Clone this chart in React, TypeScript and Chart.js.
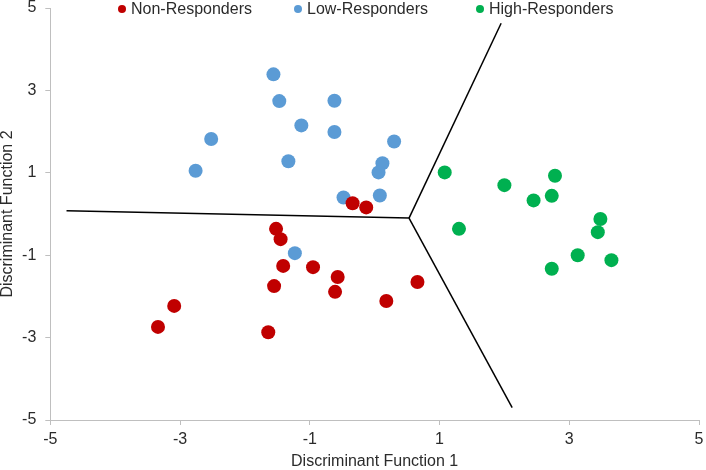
import React, { useEffect, useRef } from "react";
import { Chart, registerables } from "chart.js";

Chart.register(...registerables);

// ---- data ----
const seriesNames = ["Non-Responders", "Low-Responders", "High-Responders"];
const seriesColors = ["#c00000", "#5b9bd5", "#00b050"];

const nonX = [-0.34, -0.13, -1.52, -1.45, -1.41, -0.95, -0.57, -1.55, -0.61, 0.66, 0.18, -3.09, -3.34, -1.64];
const nonY = [0.26, 0.16, -0.36, -0.61, -1.26, -1.29, -1.53, -1.75, -1.89, -1.65, -2.11, -2.23, -2.74, -2.87];

const lowX = [-1.56, -1.47, -0.62, -1.13, -0.62, -2.52, 0.30, -1.33, 0.12, 0.06, -2.76, -0.48, 0.08, -1.23];
const lowY = [3.39, 2.74, 2.75, 2.15, 1.99, 1.82, 1.76, 1.28, 1.23, 1.01, 1.05, 0.40, 0.45, -0.95];

const highX = [1.08, 2.0, 2.78, 2.45, 2.73, 1.3, 3.48, 3.44, 3.13, 3.65, 2.73];
const highY = [1.01, 0.7, 0.93, 0.33, 0.44, -0.36, -0.12, -0.44, -1.0, -1.12, -1.33];

const boundaryCenterX = 0.53;
const boundaryCenterY = -0.1;
const boundaryEndX = [-4.75, 1.95, 2.12];
const boundaryEndY = [0.08, 4.63, -4.7];

const axisTicks = [-5, -3, -1, 1, 3, 5];
const xTitle = "Discriminant Function 1";
const yTitle = "Discriminant Function 2";

// ---- styling ----
const FONT = '"Liberation Sans", Arial, sans-serif';
const TEXT = "#2b2b2b";
const AXIS = "#bfbfbf";
const legendDotX = [122, 298, 480];
const legendY = 9;

const toPoints = (xs: number[], ys: number[]) => xs.map((x, i) => ({ x, y: ys[i] }));

const legendPlugin = {
  id: "topLegend",
  afterDraw(chart: any) {
    const ctx = chart.ctx as CanvasRenderingContext2D;
    ctx.save();
    ctx.font = `16px ${FONT}`;
    ctx.textBaseline = "middle";
    ctx.textAlign = "left";
    seriesNames.forEach((name, i) => {
      const x = legendDotX[i];
      ctx.fillStyle = seriesColors[i];
      ctx.beginPath();
      ctx.arc(x, legendY, 4, 0, Math.PI * 2);
      ctx.fill();
      ctx.fillStyle = TEXT;
      ctx.fillText(name, x + 9, legendY + 1);
    });
    ctx.restore();
  },
};

export default function App() {
  const ref = useRef<HTMLCanvasElement | null>(null);

  useEffect(() => {
    if (!ref.current) return;
    const scatterSets = [
      { x: nonX, y: nonY },
      { x: lowX, y: lowY },
      { x: highX, y: highY },
    ].map((s, i) => ({
      type: "scatter" as const,
      label: seriesNames[i],
      data: toPoints(s.x, s.y),
      backgroundColor: seriesColors[i],
      borderColor: seriesColors[i],
      borderWidth: 0,
      pointRadius: 7,
      pointHoverRadius: 7,
    }));
    const lineSets = boundaryEndX.map((ex, i) => ({
      type: "line" as const,
      label: "boundary" + i,
      data: [
        { x: ex, y: boundaryEndY[i] },
        { x: boundaryCenterX, y: boundaryCenterY },
      ],
      borderColor: "#000000",
      borderWidth: 1.5,
      pointRadius: 0,
      fill: false,
      showLine: true,
    }));

    const scaleCommon = {
      type: "linear" as const,
      min: -5,
      max: 5,
      afterBuildTicks: (s: any) => {
        s.ticks = axisTicks.map((v) => ({ value: v }));
      },
      grid: {
        display: true,
        drawOnChartArea: false,
        drawTicks: true,
        tickLength: 5,
        color: AXIS,
      },
      border: { display: true, color: AXIS, width: 1 },
    };

    const chart = new Chart(ref.current, {
      type: "scatter",
      data: { datasets: [...scatterSets, ...lineSets] as any },
      plugins: [legendPlugin],
      options: {
        animation: false,
        responsive: false,
        maintainAspectRatio: false,
        layout: { padding: { left: 0, right: 5.3, top: 8, bottom: 0 } },
        plugins: { legend: { display: false }, tooltip: { enabled: false } },
        scales: {
          x: {
            ...scaleCommon,
            position: "bottom",
            ticks: {
              color: TEXT,
              font: { family: FONT, size: 16, lineHeight: 1 },
              padding: 7,
              maxRotation: 0,
              callback: (v: any) => String(v),
            },
            title: {
              display: true,
              text: xTitle,
              color: TEXT,
              font: { family: FONT, size: 16, lineHeight: 1 },
              padding: { top: 0, bottom: 0 },
            },
            afterFit: (s: any) => {
              s.height = 50;
              s.paddingLeft = 0;
              s.paddingRight = 0;
            },
          },
          y: {
            ...scaleCommon,
            position: "left",
            ticks: {
              color: TEXT,
              font: { family: FONT, size: 16, lineHeight: 1 },
              padding: 9,
              callback: (v: any) => String(v),
            },
            title: {
              display: true,
              text: yTitle,
              color: TEXT,
              font: { family: FONT, size: 16, lineHeight: 1 },
              padding: { top: 0, bottom: 0 },
            },
            afterFit: (s: any) => {
              s.width = 50.3;
              s.paddingTop = 0;
              s.paddingBottom = 0;
            },
          },
        },
      } as any,
    });
    return () => chart.destroy();
  }, []);

  return (
    <div style={{ position: "absolute", left: 0, top: 0, width: 706, height: 470, background: "#fff" }}>
      <canvas ref={ref} width={706} height={470} style={{ display: "block" }} />
    </div>
  );
}
